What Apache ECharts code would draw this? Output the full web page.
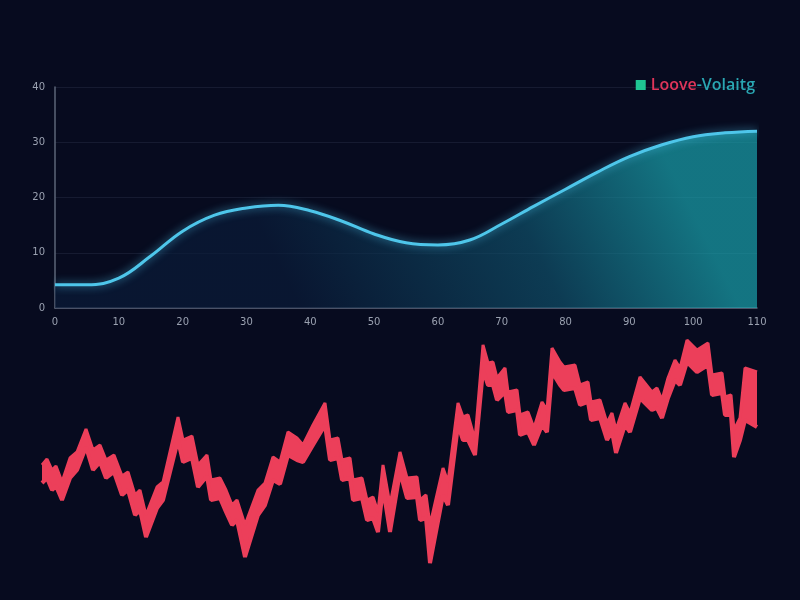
<!DOCTYPE html>
<html>
<head>
<meta charset="utf-8">
<script src="https://cdn.jsdelivr.net/npm/echarts@6/dist/echarts.min.js"></script>
<style>
html,body{margin:0;padding:0;background:#070b1f;}
#chart{width:800px;height:600px;}
</style>
</head>
<body>
<div id="chart"></div>
<script>
// ---- top chart data ----
const seriesName = 'Loove-Volaitg';
const yTicks = [0, 10, 20, 30, 40];
const topX = [0, 5, 10, 15, 20, 25, 30, 35, 40, 45, 50, 55, 60, 65, 70, 75, 80, 85, 90, 95, 100, 105, 110];
const topY = [4.2, 4.2, 5.4, 9.4, 13.9, 16.8, 18.1, 18.6, 17.6, 15.7, 13.4, 11.8, 11.4, 12.3, 15.2, 18.4, 21.5, 24.6, 27.4, 29.5, 31.0, 31.7, 32.0];

// ---- bottom ribbon data (upper and lower edge of the band) ----
const bandX = [0.5,1.75,3,4,5.5,7.5,9.25,11.5,13.25,15,16.5,18.5,20.5,22,23.75,25,26.5,29.25,30.75,34.5,
  35.75,38,39.5,41.75,42.75,45,46.5,48,49.25,51.25,54.5,56.25,58.25,60,62,64.25,65.75,68.25,71.25,72.5,
  74.5,75.5,77.5,78.25,80.5,81.75,83.25,84.5,85.75,87.5,90,91.75,94.25,95,96.5,97.5,100.75,102,104.5,105.75,
  107,108.75,110.75,112,113.25,114.25,116.25,117,119.25,120,122,123.5,125.5,126.75,128,130,131,133.75,135,137,
  137.75,140,141.75,143,144,146.25,147.5,150,153,154.25,155.5,157,158.75,160,161.75,164.25,167,168,170.5,171.25,
  172.75,173.5,175,176.25,179.25];
const bandUpper = [52.5,55.5,50,52,44,56,59,70.5,60,62.5,55,57.5,47,49,37.5,40,27.5,41.5,44,76.5,
  65,67,52.5,57.5,45,46,40,32.5,35,22.5,40,43.5,56.5,54,69,66,62.5,72.5,83.5,65,
  66,55,56,45,46,35,36.5,29,52.5,32.5,59,46,46.5,35,37.5,22.5,51,44,83.5,76.5,
  77.5,65,112.5,103.5,104,96,101,89,90,77.5,79,71,84,80,111,104,101.5,102.5,92.5,94,
  84,85,73.5,78.5,70,83.5,78.5,96.5,89,91,85,96,105,101,115,110,113.5,97.5,98.5,86.5,
  87.5,70,76,101,99];
const bandLower = [43.5,46,40,42,35,46,50,61.5,50,54,46,49,37.5,40,27.5,30,16.5,31,35,65,
  54,56,41.5,47,35,36,29,22.5,25,6.5,27.5,32.5,45,43,57.5,55,54,62.5,72.5,55,
  56,45,46,35,36,25,26,19,41,19,49,36,36.5,25,26,3.5,37.5,32.5,72.5,65,
  65,57.5,100,92.5,92.5,85,89,79,80,67.5,69,62.5,72.5,69,99,92.5,90,91,82.5,84,
  75,76,65,69,58.5,72.5,69,86,80,81,76,86,95,92.5,104,99,102.5,87.5,88.5,77.5,
  77.5,56.5,65,75,71.5];

const BG = '#070b1f';
const RED = '#ec3f5a';
const chart = echarts.init(document.getElementById('chart'));

const pairs = (xs, ys) => xs.map((x, i) => [x, ys[i]]);

chart.setOption({
  backgroundColor: BG,
  animation: false,
  legend: {
    top: 72,
    right: 40,
    icon: 'rect',
    itemWidth: 10,
    itemHeight: 10,
    itemGap: 7,
    data: [{ name: seriesName, itemStyle: { color: '#1fc592' } }],
    formatter: () => '{a|Loove}{b|-Volaitg}',
    textStyle: {
      fontSize: 16,
      fontFamily: 'Open Sans, sans-serif',
      rich: {
        a: { color: '#e0355a', fontSize: 16, fontWeight: 600, fontFamily: 'Open Sans, sans-serif' },
        b: { color: '#2aa7b3', fontSize: 16, fontWeight: 600, fontFamily: 'Open Sans, sans-serif' }
      }
    }
  },
  grid: [
    { left: 55, right: 43, top: 87, height: 221 },
    { left: 40, right: 40, top: 330, height: 240 }
  ],
  xAxis: [
    {
      gridIndex: 0, type: 'value', min: 0, max: 110, interval: 10,
      axisLine: { show: true, lineStyle: { color: '#5d6679', width: 1.5 } },
      axisTick: { show: false },
      splitLine: { show: false },
      axisLabel: { color: '#9aa1b0', fontSize: 10, margin: 9, fontFamily: 'DejaVu Sans' }
    },
    { gridIndex: 1, type: 'value', min: 0, max: 180, show: false }
  ],
  yAxis: [
    {
      gridIndex: 0, type: 'value', min: yTicks[0], max: yTicks[yTicks.length - 1], interval: 10,
      offset: 4,
      axisLine: { show: true, lineStyle: { color: '#5d6679', width: 1.5 } },
      axisTick: { show: false },
      splitLine: { show: true, lineStyle: { color: 'rgba(110,125,160,0.14)', width: 1 } },
      axisLabel: { color: '#9aa1b0', fontSize: 10, margin: 6, fontFamily: 'DejaVu Sans' }
    },
    { gridIndex: 1, type: 'value', min: 0, max: 120, show: false }
  ],
  series: [
    {
      name: seriesName,
      type: 'line',
      xAxisIndex: 0, yAxisIndex: 0,
      data: pairs(topX, topY),
      smooth: 0.4,
      showSymbol: false,
      lineStyle: { color: '#4ec6ea', width: 3, shadowColor: 'rgba(80,200,240,0.7)', shadowBlur: 8 },
      itemStyle: { color: '#4ec6ea' },
      areaStyle: {
        color: new echarts.graphic.LinearGradient(0.85, 0, 0.35, 1, [
          { offset: 0, color: 'rgba(26,170,180,0.95)' },
          { offset: 0.4, color: 'rgba(16,86,112,0.92)' },
          { offset: 1, color: 'rgba(10,28,58,0.95)' }
        ])
      }
    },
    {
      name: 'band-upper',
      type: 'line',
      xAxisIndex: 1, yAxisIndex: 1,
      data: pairs(bandX, bandUpper),
      showSymbol: false,
      lineStyle: { width: 3, color: RED, join: 'bevel' },
      areaStyle: { color: RED, opacity: 1, origin: 'start' },
      z: 2
    },
    {
      name: 'band-lower',
      type: 'line',
      xAxisIndex: 1, yAxisIndex: 1,
      data: pairs(bandX, bandLower),
      showSymbol: false,
      lineStyle: { width: 4, color: RED, join: 'bevel' },
      areaStyle: { color: BG, opacity: 1, origin: 'start' },
      z: 3
    }
  ]
});
</script>
</body>
</html>
